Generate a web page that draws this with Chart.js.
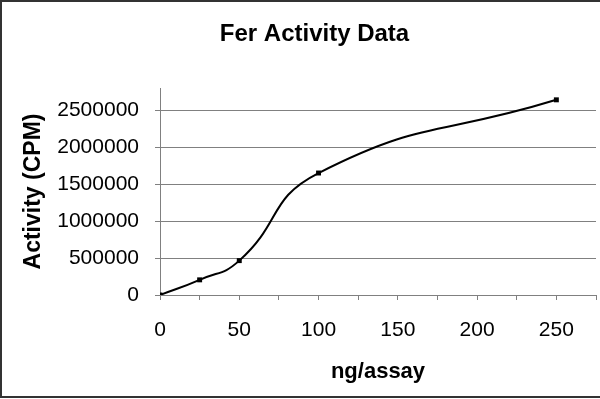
<!DOCTYPE html>
<html>
<head>
<meta charset="utf-8">
<script src="https://cdn.jsdelivr.net/npm/chart.js@4"></script>
<style>
  html, body { margin: 0; padding: 0; background: #fff; }
  #wrap { width: 600px; height: 399px; }
</style>
</head>
<body>
<div id="wrap"><canvas id="c" width="600" height="399"></canvas></div>
<script>
const chartTitle = 'Fer Activity Data';
const xTitle = 'ng/assay';
const yTitle = 'Activity (CPM)';
const amounts = [0, 25, 50, 100, 250];          // ng/assay
const activity = [0, 205000, 465000, 1650000, 2640000]; // CPM
const xTicks = [0, 25, 50, 75, 100, 125, 150, 175, 200, 225, 250, 275];
const xLabelStep = 50;
const yTicks = [0, 500000, 1000000, 1500000, 2000000, 2500000];
const xMin = 0, xMax = 275;
const yMin = 0, yMax = 2800000;

const points = amounts.map((x, i) => ({ x: x, y: activity[i] }));
const FONT = 'Liberation Sans, Arial, sans-serif';

const framePlugin = {
  id: 'frame',
  beforeDraw(chart) {
    const ctx = chart.ctx;
    ctx.save();
    ctx.fillStyle = '#ffffff';
    ctx.fillRect(0, 0, chart.width, chart.height);
    ctx.restore();
  },
  afterDraw(chart) {
    const ctx = chart.ctx;
    ctx.save();
    ctx.strokeStyle = '#333333';
    ctx.lineWidth = 2;
    ctx.beginPath();
    ctx.moveTo(chart.width + 5, 1);
    ctx.lineTo(1, 1);
    ctx.lineTo(1, 397);
    ctx.lineTo(chart.width + 5, 397);
    ctx.stroke();
    ctx.restore();
  }
};

new Chart(document.getElementById('c'), {
  type: 'line',
  data: {
    datasets: [{
      data: points,
      borderColor: '#000000',
      backgroundColor: '#000000',
      borderWidth: 2,
      tension: 0.5,
      pointStyle: 'rect',
      pointRadius: 3.5,
      pointBorderWidth: 0,
      fill: false
    }]
  },
  options: {
    responsive: false,
    animation: false,
    devicePixelRatio: 1,
    layout: { padding: { left: 31, right: 2, top: 0, bottom: 14 } },
    plugins: {
      legend: { display: false },
      tooltip: { enabled: false },
      title: {
        display: true,
        text: chartTitle,
        color: '#000',
        font: { family: FONT, size: 24, weight: 'bold' },
        padding: { top: 19.6, bottom: 39.6 }
      }
    },
    scales: {
      x: {
        type: 'linear',
        min: xMin, max: xMax,
        afterBuildTicks(scale) { scale.ticks = xTicks.map(v => ({ value: v })); },
        afterFit(scale) { scale.height = 90; scale.paddingRight = 0; scale.paddingLeft = 0; },
        border: { display: true, color: '#808080', width: 1 },
        grid: { drawOnChartArea: false, drawTicks: true, tickLength: 5, color: '#808080' },
        ticks: {
          autoSkip: false,
          maxRotation: 0,
          padding: 18,
          color: '#000',
          font: { family: FONT, size: 21 },
          callback: (v) => (v % xLabelStep === 0 ? String(v) : '')
        },
        title: {
          display: true,
          text: xTitle,
          color: '#000',
          font: { family: FONT, size: 22, weight: 'bold' },
          padding: { top: 0, bottom: 0 }
        }
      },
      y: {
        type: 'linear',
        min: yMin, max: yMax,
        afterBuildTicks(scale) { scale.ticks = yTicks.map(v => ({ value: v })); },
        afterFit(scale) { scale.width = 129; scale.paddingTop = 0; scale.paddingBottom = 0; },
        border: { display: true, color: '#808080', width: 1 },
        grid: { drawTicks: true, tickLength: 5, color: '#808080' },
        ticks: {
          autoSkip: false,
          padding: 16,
          color: '#000',
          font: { family: FONT, size: 21 },
          callback: (v) => String(v)
        },
        title: {
          display: true,
          text: yTitle,
          color: '#000',
          font: { family: FONT, size: 23, weight: 'bold' },
          padding: { top: -11, bottom: 0 }
        }
      }
    }
  },
  plugins: [framePlugin]
});
</script>
</body>
</html>
